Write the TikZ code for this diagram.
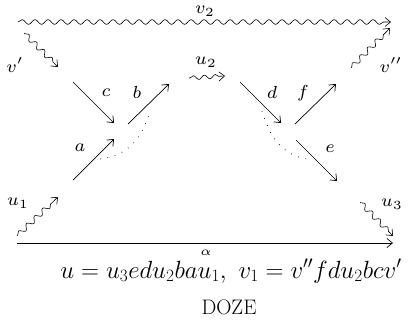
\documentclass[tikz,border=0pt]{standalone}
\usepackage{graphicx}
\usetikzlibrary{arrows.meta,decorations.pathmorphing}
\newcommand\lbl[1]{\scalebox{2.5}{$\scriptstyle #1$}}
\begin{document}
\begin{tikzpicture}[x=1pt,y=-1pt,
  tip/.style={-{Straight Barb[length=5.5pt,width=9pt]}},
  arr/.style={tip,line width=0.7pt},
  wav/.style={tip,line width=0.6pt,decorate,decoration={snake,amplitude=2.4pt,segment length=13pt,post length=5pt}},
  sq/.style={tip,line width=0.6pt,decorate,decoration={snake,amplitude=2.6pt,segment length=11pt,pre length=1pt,post length=5pt}},
  lab/.style={inner sep=0pt},
  dots/.style={line width=0.9pt,dash pattern=on 0.6pt off 7pt}]
\useasboundingbox (0,0) rectangle (412,327);
% coordinates
\coordinate (v2s) at (18,22);  \coordinate (v2e) at (391,22);
\coordinate (vps) at (24,33);  \coordinate (vpe) at (58,67);
\coordinate (cs) at (73,82);   \coordinate (ce) at (114,123);
\coordinate (bs) at (128,124); \coordinate (be) at (169,84);
\coordinate (as) at (73,180);  \coordinate (ae) at (114,139);
\coordinate (u1s) at (17,236); \coordinate (u1e) at (58,197);
\coordinate (als) at (17,243); \coordinate (ale) at (393,243);
\coordinate (u2s) at (189,78); \coordinate (u2e) at (225,76);
\coordinate (ds) at (240,82);  \coordinate (de) at (281,123);
\coordinate (fs) at (295,124); \coordinate (fe) at (336,84);
\coordinate (es) at (296,140); \coordinate (ee) at (337,181);
\coordinate (vpps) at (351,68); \coordinate (vppe) at (390,28);
\coordinate (u3s) at (360,202); \coordinate (u3e) at (393,236);
\coordinate (dl1) at (100,159); \coordinate (dl2) at (150,111);
\coordinate (dr1) at (262,111); \coordinate (dr2) at (308,159);
% labels
\node[lab] (lv2) at (205,11) {\lbl{v_2}};
\node[lab] (lvp) at (15,65) {\lbl{v'}};
\node[lab] (lc) at (106,93) {\lbl{c}};
\node[lab] (lb) at (137,92) {\lbl{b}};
\node[lab] (la) at (80,148) {\lbl{a}};
\node[lab] (lu1) at (18,203) {\lbl{u_1}};
\node[lab] (lu2) at (206,62) {\lbl{u_2}};
\node[lab] (ld) at (272,92) {\lbl{d}};
\node[lab] (lf) at (303,93) {\lbl{f}};
\node[lab] (le) at (330,149) {\lbl{e}};
\node[lab] (lvpp) at (391,65) {\lbl{v''}};
\node[lab] (lu3) at (392,204) {\lbl{u_3}};
\node[lab] (lal) at (206,253) {\scalebox{2.5}{$\scriptscriptstyle\alpha$}};
\node[inner sep=0pt,anchor=base,font=\fontsize{25.5}{30}\selectfont] (eq) at (231,278) {$u=u_3edu_2bau_1,\ v_1=v''fdu_2bcv'$};
\node[inner sep=0pt,anchor=base,font=\fontsize{21}{25}\selectfont] (doze) at (229,314) {DOZE};
% connectors
\draw[wav] (v2s) -- (v2e);
\draw[sq] (vps) -- (vpe);
\draw[arr] (cs) -- (ce);
\draw[arr] (bs) -- (be);
\draw[arr] (as) -- (ae);
\draw[sq] (u1s) -- (u1e);
\draw[arr] (als) -- (ale);
\draw[sq,decoration={snake,amplitude=2pt,segment length=11pt,post length=6pt}] (u2s) -- (u2e);
\draw[arr] (ds) -- (de);
\draw[arr] (fs) -- (fe);
\draw[arr] (es) -- (ee);
\draw[sq] (vpps) -- (vppe);
\draw[sq] (u3s) -- (u3e);
\draw[dots] (dl1) .. controls (130,156) and (143,135) .. (dl2);
\draw[dots] (dr1) .. controls (269,135) and (282,156) .. (dr2);
\end{tikzpicture}
\end{document}
